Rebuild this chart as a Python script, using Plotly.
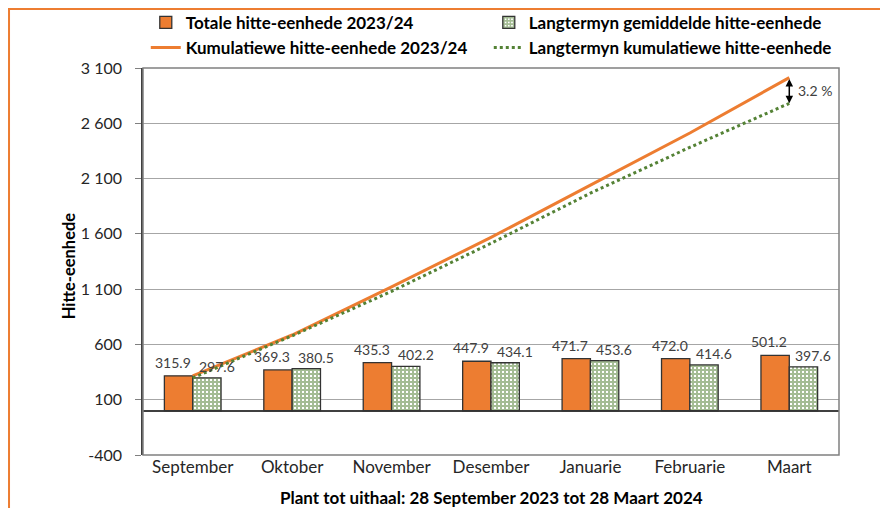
import plotly.graph_objects as go

# ---- data ----
months = ["September", "Oktober", "November", "Desember", "Januarie", "Februarie", "Maart"]
totale_2324 = [315.9, 369.3, 435.3, 447.9, 471.7, 472.0, 501.2]
langtermyn_gem = [297.6, 380.5, 402.2, 434.1, 453.6, 414.6, 397.6]
kum_2324 = [315.9, 685.2, 1120.5, 1568.4, 2040.1, 2512.1, 3013.3]
kum_langtermyn = [297.6, 678.1, 1080.3, 1514.4, 1968.0, 2382.6, 2780.2]
y_tickvals = [-400, 100, 600, 1100, 1600, 2100, 2600, 3100]
y_ticktext = ["-400", "100", "600", "1 100", "1 600", "2 100", "2 600", "3 100"]
verskil_label = "3.2 %"

ORANGE = "#ED7D31"
GREEN = "#548235"
DARK = "#404040"
TXT = "#262626"
FONT = "Lato"

fig = go.Figure()
fig.add_trace(go.Bar(
    x=months, y=totale_2324, name="Totale hitte-eenhede 2023/24",
    marker=dict(color=ORANGE, line=dict(color="#333333", width=1.3)),
))
fig.add_trace(go.Bar(
    x=months, y=langtermyn_gem, name="Langtermyn gemiddelde hitte-eenhede",
    marker=dict(color="white", line=dict(color="#333333", width=1.3),
                pattern=dict(shape="+", fgcolor="#4A7A2A", bgcolor="white", size=4, solidity=0.75)),
))
fig.add_trace(go.Scatter(
    x=months, y=kum_2324, name="Kumulatiewe hitte-eenhede 2023/24", mode="lines",
    line=dict(color=ORANGE, width=3),
))
fig.add_trace(go.Scatter(
    x=months, y=kum_langtermyn, name="Langtermyn kumulatiewe hitte-eenhede", mode="lines",
    line=dict(color=GREEN, width=3, dash="dot"),
))

annotations = []
for m, v in zip(months, totale_2324):
    annotations.append(dict(x=m, y=v, text=f"{v:.1f}", showarrow=False, xshift=-20, yshift=3,
                            yanchor="bottom", font=dict(family=FONT, size=14, color=DARK)))
for m, v in zip(months, langtermyn_gem):
    annotations.append(dict(x=m, y=v, text=f"{v:.1f}", showarrow=False, xshift=24, yshift=1,
                            yanchor="bottom", font=dict(family=FONT, size=14, color=DARK)))

# double-headed arrow between cumulative end points
annotations.append(dict(x=months[-1], y=kum_langtermyn[-1], ax=0, ay=kum_2324[-1],
                        axref="pixel", ayref="y", xref="x", yref="y",
                        showarrow=True, arrowhead=2, arrowside="end+start",
                        arrowsize=1, arrowwidth=1.5, arrowcolor="black", text=""))
annotations.append(dict(x=months[-1], y=(kum_2324[-1] + kum_langtermyn[-1]) / 2, text=verskil_label,
                        showarrow=False, xshift=26, font=dict(family=FONT, size=14, color=DARK)))

# axis titles as annotations
annotations.append(dict(x=-0.1236, y=0.49, xref="paper", yref="paper", text="<b>Hitte-eenhede</b>",
                        textangle=-90, showarrow=False, font=dict(family=FONT, size=16.5, color="black")))
annotations.append(dict(x=0.5, y=-0.11, xref="paper", yref="paper",
                        text="<b>Plant tot uithaal: 28 September 2023 tot 28 Maart 2024</b>",
                        yanchor="middle", showarrow=False, font=dict(family=FONT, size=17, color="black")))

shapes = [
    # plot frame
    dict(type="rect", xref="paper", yref="paper", x0=0, y0=0, x1=1, y1=1,
         line=dict(color="#808080", width=1.5), layer="above"),
    # outer orange frame (top and left edges of the figure)
    dict(type="line", xref="paper", yref="paper", x0=-0.2, x1=1.2, y0=1.1525, y1=1.1525,
         line=dict(color=ORANGE, width=2)),
    dict(type="line", xref="paper", yref="paper", x0=-0.1925, x1=-0.1925, y0=1.16, y1=-0.2,
         line=dict(color=ORANGE, width=2)),
]

fig.update_layout(
    width=880, height=500,
    margin=dict(l=135, r=49, t=60, b=53, autoexpand=False),
    paper_bgcolor="white", plot_bgcolor="white",
    barmode="group", bargap=0.43, bargroupgap=0,
    font=dict(family=FONT, size=14, color=TXT),
    legend=dict(orientation="h", x=0.004, xanchor="left", y=1.163, yanchor="top",
                entrywidth=298, entrywidthmode="pixels", tracegroupgap=0,
                font=dict(family=FONT, size=17, color="black", weight="bold"),
                bgcolor="rgba(0,0,0,0)"),
    annotations=annotations,
    shapes=shapes,
    showlegend=True,
)
fig.update_xaxes(showgrid=False, showline=False, ticks="", tickfont=dict(family=FONT, size=17, color=TXT))
fig.update_yaxes(range=[-400, 3100], tickvals=y_tickvals, ticktext=y_ticktext,
                 showgrid=True, gridcolor="#A6A6A6", gridwidth=1,
                 zeroline=True, zerolinecolor=DARK, zerolinewidth=1.5,
                 showline=True, linecolor=DARK, linewidth=1.5,
                 ticks="outside", ticklen=6, tickcolor="#808080", ticklabelstandoff=10,
                 tickfont=dict(family=FONT, size=16, color=TXT))

fig.write_html("out.html")
